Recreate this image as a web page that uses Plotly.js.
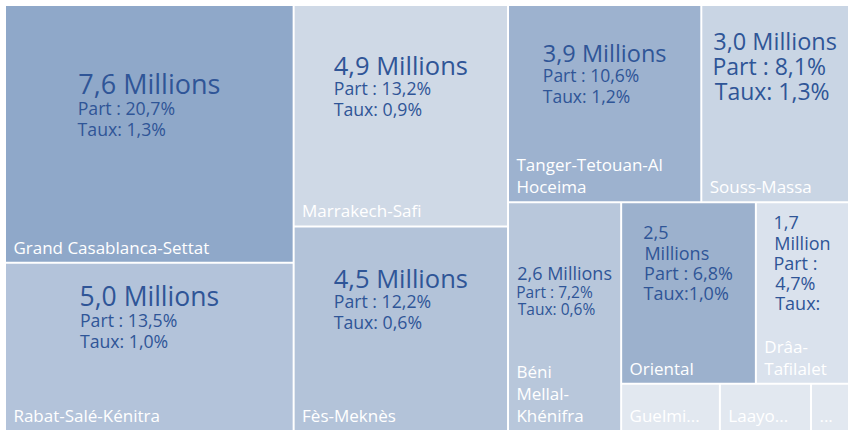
<!DOCTYPE html>
<html>
<head>
<meta charset="utf-8">
<script src="https://cdn.plot.ly/plotly-3.0.1.min.js"></script>
<style>html,body{margin:0;padding:0;background:#fff;overflow:hidden}#chart{width:849px;height:430px}</style>
</head>
<body>
<div id="chart"></div>
<script>
// ---------- DATA ----------
const regions = ['Grand Casablanca-Settat','Rabat-Salé-Kénitra','Marrakech-Safi','Fès-Meknès',
  'Tanger-Tetouan-Al Hoceima','Souss-Massa','Béni Mellal-Khénifra','Oriental','Drâa-Tafilalet',
  'Guelmim-Oued Noun','Laâyoune-Sakia El Hamra','Dakhla-Oued Ed-Dahab'];
const shownNames = ['Grand Casablanca-Settat','Rabat-Salé-Kénitra','Marrakech-Safi','Fès-Meknès',
  'Tanger-Tetouan-Al<br>Hoceima','Souss-Massa','Béni<br>Mellal-<br>Khénifra','Oriental','Drâa-<br>Tafilalet',
  'Guelmi...','Laayo...','...'];
const populationMillions = [7.6, 5.0, 4.9, 4.5, 3.9, 3.0, 2.6, 2.5, 1.7, null, null, null];
const sharePct = [20.7, 13.5, 13.2, 12.2, 10.6, 8.1, 7.2, 6.8, 4.7, 1.3, 1.2, 0.5];
const growthPct = [1.3, 1.0, 0.9, 0.6, 1.2, 1.3, 0.6, 1.0, null, null, null, null];

// grouping used to arrange the tiles (Excel-like tiling)
const groupIds = ['root','g-col1','g-col2','g-rest','g-top','g-bottom','g-side','g-row1','g-row2'];
const groupParents = ['','root','root','root','g-rest','g-rest','g-bottom','g-side','g-side'];
const regionGroup = ['g-col1','g-col1','g-col2','g-col2','g-top','g-top','g-bottom','g-row1','g-row1','g-row2','g-row2','g-row2'];

// ---------- STYLE ----------
const tileColors = ['#8FA8C9','#B3C3DA','#CFD9E6','#B3C3D9','#9DB2CF','#C9D5E4','#B8C7DB','#9CB1CD','#DAE2ED','#E2E8F0','#E2E8F0','#E2E8F0'];
// [main line size, other lines size, base size (line spacing), wrap level]
const textStyle = [[27,17.7,16,0],[26.5,17.7,16,0],[25.5,17.7,16,0],[25.5,17.7,16,0],[23.5,17.5,16,0],[23.5,23,19.5,0],
  [18,15.5,13.5,0],[18,18,15.5,1],[18,18,15.5,2],[15,15,15,0],[15,15,15,0],[15,15,15,0]];
const FONT = 'Open Sans, Lato, sans-serif';
const BLUE = '#2F5597';
const NB = '\u00A0';

const ctx = document.createElement('canvas').getContext('2d');
function textWidth(t, s){ ctx.font = s + 'px "Open Sans"'; return ctx.measureText(t).width; }

function fmt(v){ return v.toFixed(1).replace('.', ','); }
function valueText(i){
  const p = populationMillions[i];
  if (p === null) return '';
  const [mainS, subS, , wrap] = textStyle[i];
  const unit = p < 2 ? 'Million' : 'Millions';
  const lines = [];
  if (wrap >= 1) { lines.push([mainS, fmt(p)]); lines.push([mainS, unit]); }
  else lines.push([mainS, fmt(p) + ' ' + unit]);
  if (wrap >= 2) { lines.push([subS, 'Part :']); lines.push([subS, fmt(sharePct[i]) + '%']); }
  else lines.push([subS, 'Part : ' + fmt(sharePct[i]) + '%']);
  const g = growthPct[i];
  lines.push([subS, g === null ? 'Taux:' : (wrap >= 1 ? 'Taux:' : 'Taux: ') + fmt(g) + '%']);
  // pad lines so the centred block reads left-aligned
  const maxW = Math.max(...lines.map(([s, t]) => textWidth(t, s)));
  const out = lines.map(([s, t]) => {
    const pad = Math.max(0, Math.round((maxW - textWidth(t, s)) / textWidth(NB, s)));
    return '<span style="font-size:' + s + 'px">' + t + NB.repeat(pad) + '</span>';
  });
  // spacer lines lift the block above the tile centre
  out.push(NB, NB, NB);
  return out.join('<br>');
}

const ids = [...regions, ...groupIds];
const parents = [...regionGroup, ...groupParents];
const values = [...sharePct, ...groupIds.map(() => 0)];
const nGroup = groupIds.length;
const blanks = new Array(nGroup).fill('');

const common = {
  type: 'treemap', ids: ids, labels: ids, parents: parents, values: values,
  branchvalues: 'remainder', sort: false,
  tiling: {packing: 'slice-dice', pad: 2},
  pathbar: {visible: false},
  domain: {x: [0, 1], y: [0, 1]},
  leaf: {opacity: 1},
  hoverinfo: 'skip',
  textinfo: 'text'
};

const tiles = Object.assign({}, common, {
  marker: {colors: [...tileColors, ...new Array(nGroup).fill('#FFFFFF')],
           line: {width: 0}, pad: {t: 0, l: 0, r: 0, b: 0}, depthfade: false},
  text: [...shownNames.map(s => NB + s.split('<br>').join('<br>' + NB)), ...blanks],
  textposition: 'bottom left',
  textfont: {family: FONT, size: 17, color: '#FFFFFF'}
});

const valueLabels = Object.assign({}, common, {
  marker: {colors: new Array(ids.length).fill('rgba(0,0,0,0)'),
           line: {width: 0}, pad: {t: 0, l: 0, r: 0, b: 0}, depthfade: false},
  text: [...regions.map((_, i) => valueText(i)), ...blanks],
  textposition: 'middle center',
  textfont: {family: FONT, size: [...textStyle.map(s => s[2]), ...new Array(nGroup).fill(15)], color: BLUE}
});

Plotly.newPlot('chart', [tiles, valueLabels], {
  width: 849, height: 430,
  margin: {l: 6, r: 1, t: 6, b: 0},
  paper_bgcolor: '#FFFFFF',
  showlegend: false
}, {displayModeBar: false, staticPlot: true});
</script>
</body>
</html>
